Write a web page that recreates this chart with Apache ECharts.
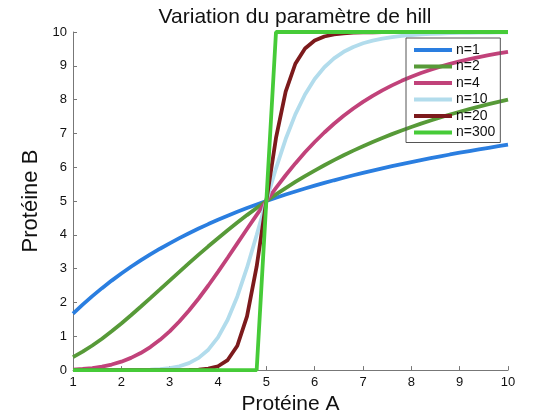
<!DOCTYPE html>
<html>
<head>
<meta charset="utf-8">
<script src="https://cdn.jsdelivr.net/npm/echarts@6/dist/echarts.min.js"></script>
<style>
  html, body { margin: 0; padding: 0; background: #fff; }
  #chart { width: 560px; height: 420px; }
</style>
</head>
<body>
<div id="chart"></div>
<script>
// valeurs (pas de 0.2 sur l'axe A)
var proteineA = [1.0, 1.2, 1.4, 1.6, 1.8, 2.0, 2.2, 2.4, 2.6, 2.8, 3.0, 3.2, 3.4, 3.6, 3.8, 4.0,
  4.2, 4.4, 4.6, 4.8, 5.0, 5.2, 5.4, 5.6, 5.8, 6.0, 6.2, 6.4, 6.6, 6.8, 7.0, 7.2, 7.4, 7.6,
  7.8, 8.0, 8.2, 8.4, 8.6, 8.8, 9.0, 9.2, 9.4, 9.6, 9.8, 10.0];

var n1 = [1.667, 1.935, 2.188, 2.424, 2.647, 2.857, 3.056, 3.243, 3.421, 3.590, 3.750, 3.902,
  4.048, 4.186, 4.318, 4.444, 4.565, 4.681, 4.792, 4.898, 5.000, 5.098, 5.192, 5.283, 5.370,
  5.455, 5.536, 5.614, 5.690, 5.763, 5.833, 5.902, 5.968, 6.032, 6.094, 6.154, 6.212, 6.269,
  6.324, 6.377, 6.429, 6.479, 6.528, 6.575, 6.622, 6.667];
var n2 = [0.385, 0.545, 0.727, 0.929, 1.147, 1.379, 1.622, 1.873, 2.128, 2.387, 2.647, 2.906,
  3.162, 3.414, 3.661, 3.902, 4.137, 4.364, 4.584, 4.796, 5.000, 5.196, 5.384, 5.564, 5.737,
  5.902, 6.059, 6.210, 6.354, 6.491, 6.622, 6.747, 6.866, 6.979, 7.088, 7.191, 7.290, 7.384,
  7.474, 7.560, 7.642, 7.720, 7.795, 7.866, 7.935, 8.000];
var n4 = [0.016, 0.033, 0.061, 0.104, 0.165, 0.250, 0.361, 0.504, 0.681, 0.895, 1.147, 1.437,
  1.762, 2.118, 2.502, 2.906, 3.324, 3.749, 4.174, 4.593, 5.000, 5.391, 5.764, 6.114, 6.442,
  6.746, 7.028, 7.286, 7.522, 7.738, 7.935, 8.113, 8.275, 8.422, 8.555, 8.676, 8.786, 8.885,
  8.975, 9.056, 9.130, 9.198, 9.259, 9.315, 9.365, 9.412];
var n10 = [0.000, 0.000, 0.000, 0.000, 0.000, 0.001, 0.003, 0.006, 0.014, 0.030, 0.060, 0.114,
  0.207, 0.361, 0.604, 0.970, 1.489, 2.179, 3.029, 3.994, 5.000, 5.968, 6.834, 7.565, 8.152,
  8.610, 8.958, 9.219, 9.414, 9.558, 9.666, 9.746, 9.806, 9.850, 9.884, 9.910, 9.929, 9.945,
  9.956, 9.965, 9.972, 9.978, 9.982, 9.985, 9.988, 9.990];
var n20 = [0.000, 0.000, 0.000, 0.000, 0.000, 0.000, 0.000, 0.000, 0.000, 0.000, 0.000, 0.001,
  0.005, 0.014, 0.041, 0.114, 0.297, 0.720, 1.588, 3.065, 5.000, 6.866, 8.234, 9.061, 9.511,
  9.746, 9.867, 9.929, 9.961, 9.979, 9.988, 9.993, 9.996, 9.998, 9.999, 9.999, 10.0, 10.0,
  10.0, 10.0, 10.0, 10.0, 10.0, 10.0, 10.0, 10.0];
var n300 = [0, 0, 0, 0, 0, 0, 0, 0, 0, 0, 0, 0, 0, 0, 0, 0, 0, 0, 0, 0, 5, 10, 10, 10, 10,
  10, 10, 10, 10, 10, 10, 10, 10, 10, 10, 10, 10, 10, 10, 10, 10, 10, 10, 10, 10, 10];

var noms = ['n=1', 'n=2', 'n=4', 'n=10', 'n=20', 'n=300'];
var courbes = [n1, n2, n4, n10, n20, n300];
var couleurs = ['#2a7ee0', '#579a38', '#c1427a', '#b2dcec', '#7c1a1c', '#46cb38'];
var ticksY = [0, 1, 2, 3, 4, 5, 6, 7, 8, 9, 10];

var police = 'Liberation Sans, Arial, sans-serif';
var myChart = echarts.init(document.getElementById('chart'));

var series = courbes.map(function (ys, i) {
  return {
    name: noms[i],
    type: 'line',
    data: proteineA.map(function (x, k) { return [x, ys[k]]; }),
    showSymbol: false,
    clip: false,
    lineStyle: { width: 3.8, color: couleurs[i] },
    itemStyle: { color: couleurs[i] }
  };
});

myChart.setOption({
  animation: false,
  textStyle: { fontFamily: police },
  title: {
    text: 'Variation du paramètre de hill',
    left: 290, top: 2, textAlign: 'center',
    textStyle: { fontFamily: police, fontSize: 21, fontWeight: 'normal', color: '#111' }
  },
  legend: {
    orient: 'vertical',
    left: 406, top: 38,
    padding: [5, 5, 3, 8],
    itemWidth: 38, itemHeight: 4, itemGap: 2.5,
    icon: 'rect',
    borderColor: '#555', borderWidth: 1,
    textStyle: { fontFamily: police, fontSize: 14, color: '#111', padding: [0, 0, 0, -1] },
    data: noms
  },
  grid: { left: 73, right: 52, top: 32, bottom: 47, containLabel: false },
  xAxis: {
    type: 'value', min: 1, max: 10, interval: 1,
    name: 'Protéine A', nameLocation: 'middle', nameGap: 23,
    nameTextStyle: { fontFamily: police, fontSize: 21, color: '#111' },
    axisLine: { lineStyle: { color: '#777', width: 1 } },
    axisTick: { inside: true, length: 4, lineStyle: { color: '#777' } },
    axisLabel: { fontSize: 13, color: '#111', margin: 6 },
    splitLine: { show: false }
  },
  yAxis: {
    type: 'value', min: 0, max: 10, interval: 1,
    name: 'Protéine B', nameLocation: 'middle', nameGap: 25,
    nameTextStyle: { fontFamily: police, fontSize: 22, color: '#111' },
    axisLine: { show: true, lineStyle: { color: '#777', width: 1 } },
    axisTick: { show: true, inside: true, length: 4, lineStyle: { color: '#777' } },
    axisLabel: {
      fontSize: 13, color: '#111', margin: 6,
      formatter: function (v) { return ticksY.indexOf(v) >= 0 ? String(v) : ''; }
    },
    splitLine: { show: false }
  },
  series: series
});
</script>
</body>
</html>
